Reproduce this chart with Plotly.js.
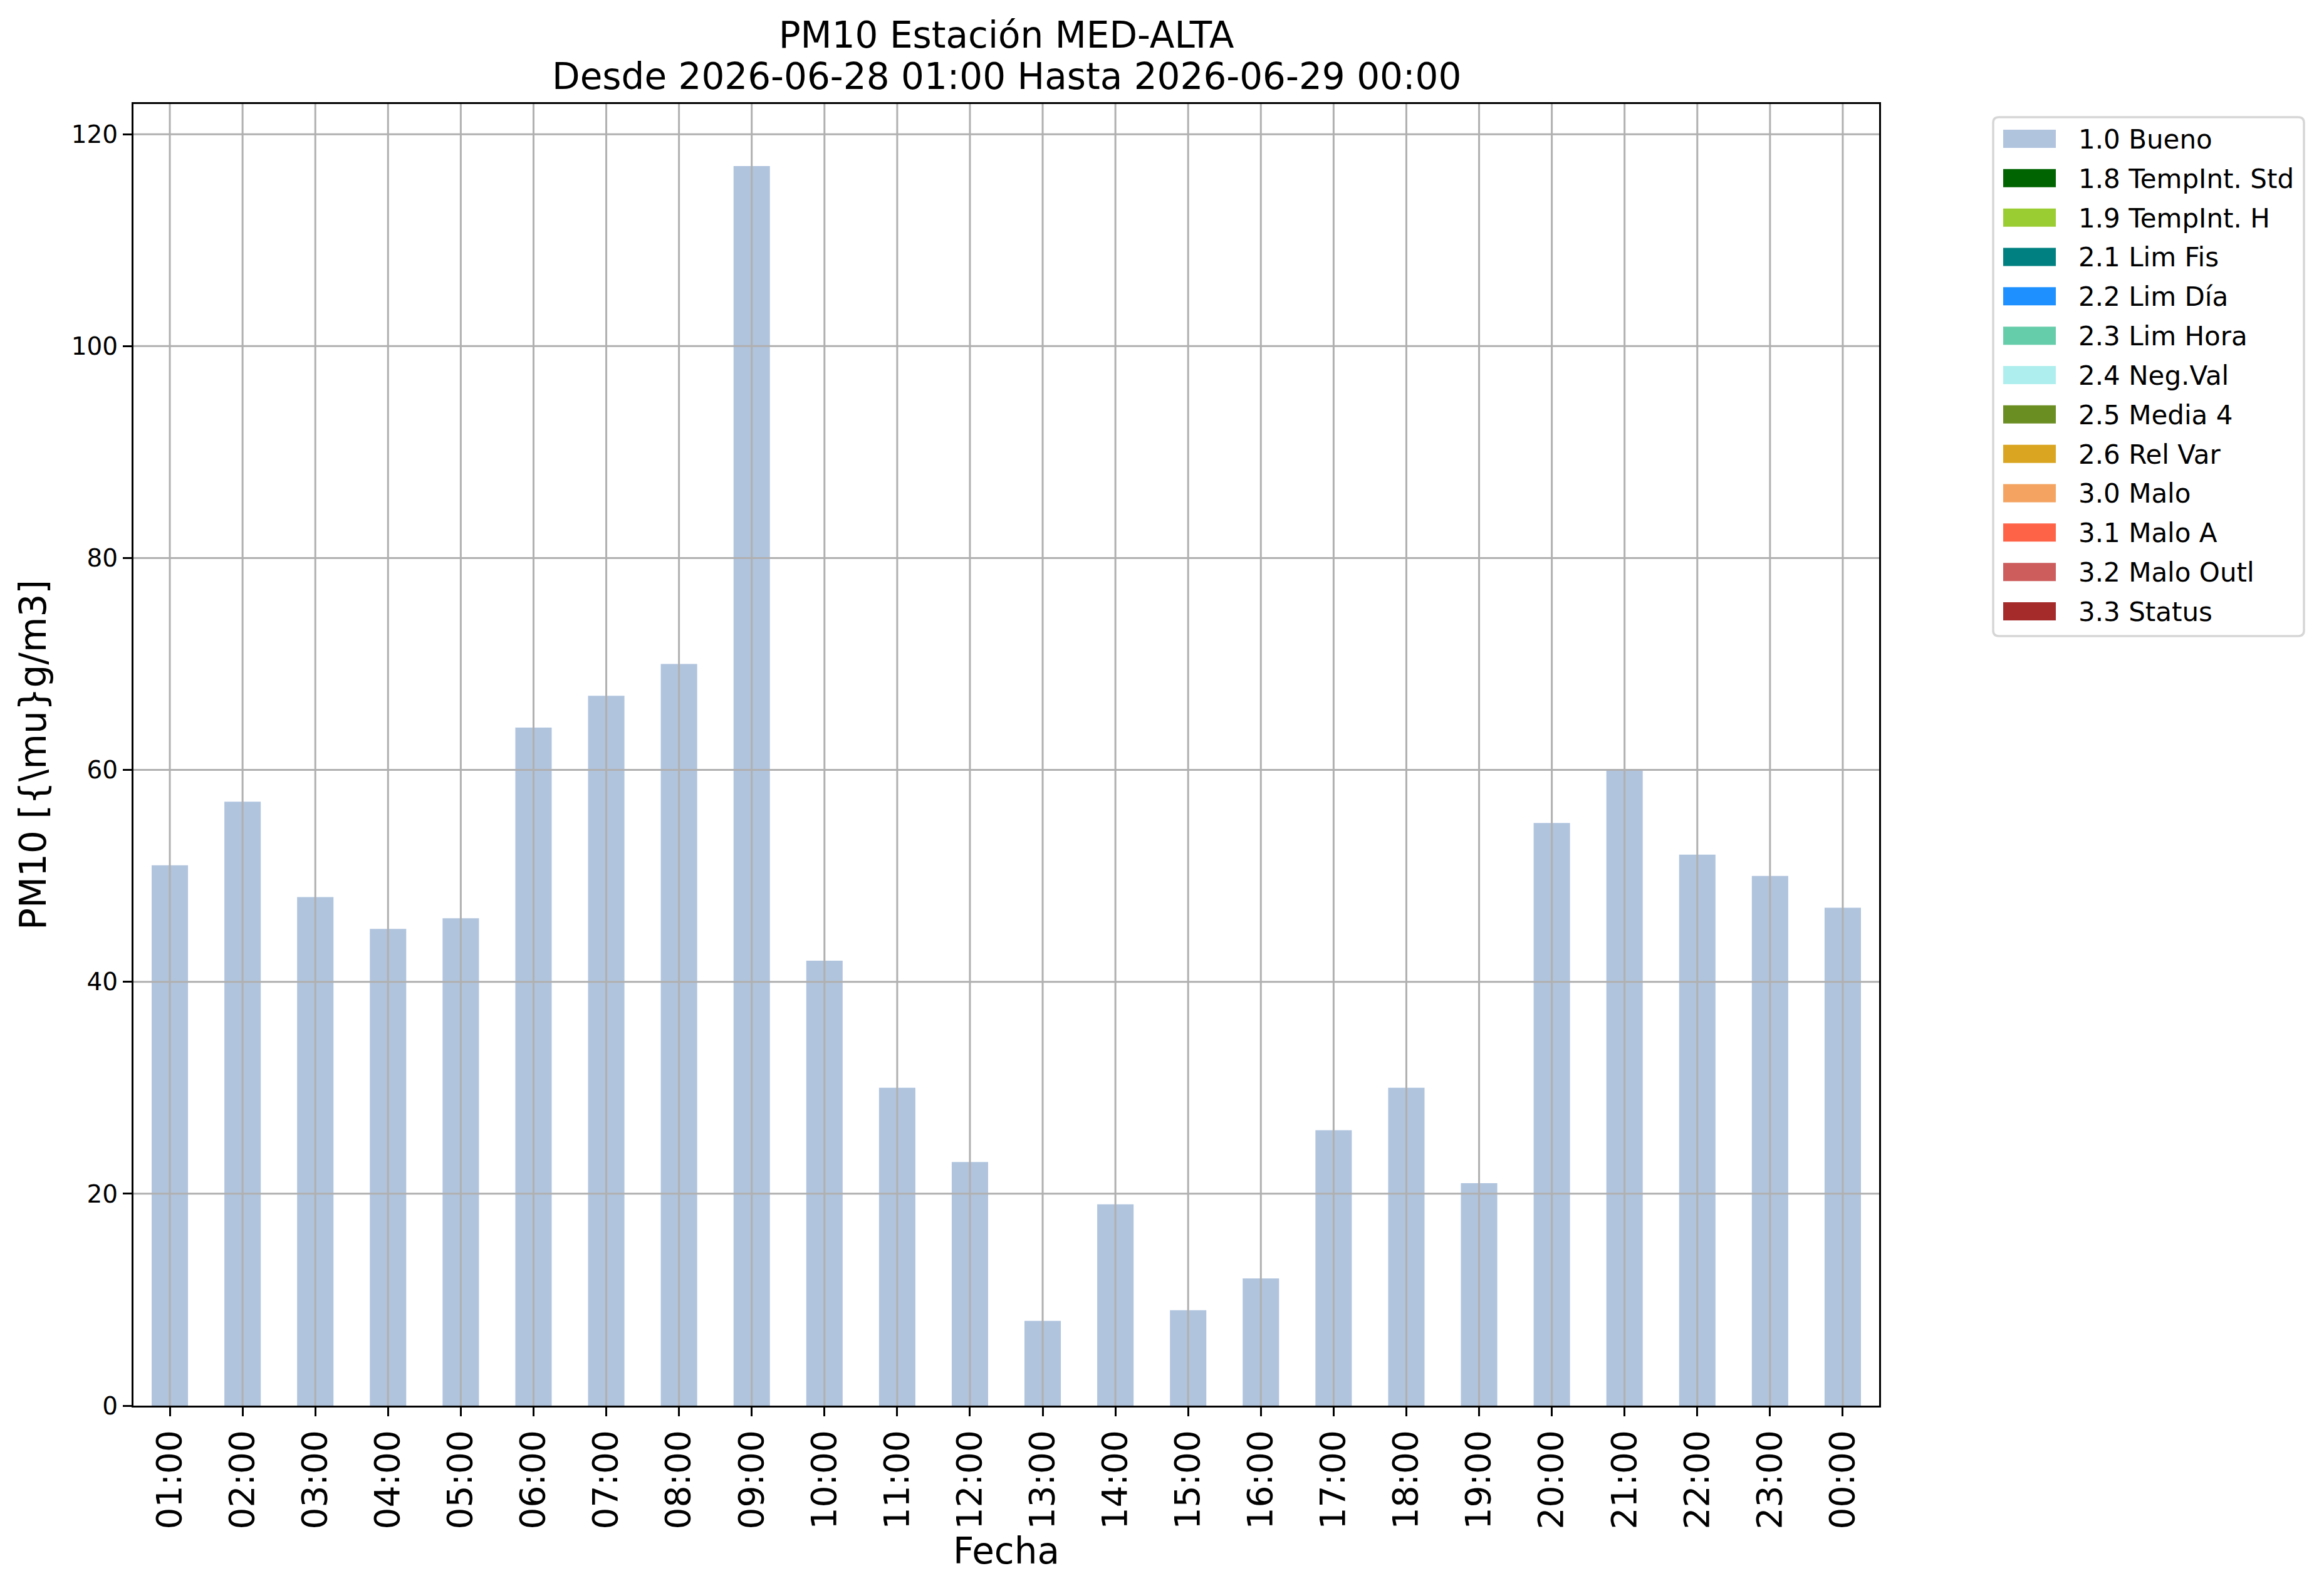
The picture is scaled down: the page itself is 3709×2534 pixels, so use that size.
<!DOCTYPE html>
<html>
<head>
<meta charset="utf-8">
<script src="https://cdn.plot.ly/plotly-3.0.1.min.js"></script>
<style>
  html, body { margin: 0; padding: 0; background: #fff; }
  #chart { width: 3709px; height: 2534px; }
</style>
</head>
<body>
<div id="chart"></div>
<script>
// hourly PM10 values, station MED-ALTA
var hours = ['01:00', '02:00', '03:00', '04:00', '05:00', '06:00', '07:00', '08:00',
             '09:00', '10:00', '11:00', '12:00', '13:00', '14:00', '15:00', '16:00',
             '17:00', '18:00', '19:00', '20:00', '21:00', '22:00', '23:00', '00:00'];
var pm10 = [51, 57, 48, 45, 46, 64, 67, 70, 117, 42, 30, 23,
            8, 19, 9, 12, 26, 30, 21, 55, 60, 52, 50, 47];
var quality = ['1.0', '1.0', '1.0', '1.0', '1.0', '1.0', '1.0', '1.0', '1.0', '1.0', '1.0', '1.0',
               '1.0', '1.0', '1.0', '1.0', '1.0', '1.0', '1.0', '1.0', '1.0', '1.0', '1.0', '1.0'];

// quality flags shown in the legend
var flagCodes = ['1.0', '1.8', '1.9', '2.1', '2.2', '2.3', '2.4', '2.5', '2.6', '3.0', '3.1', '3.2', '3.3'];
var flagNames = ['Bueno', 'TempInt. Std', 'TempInt. H', 'Lim Fis', 'Lim Día', 'Lim Hora',
                 'Neg.Val', 'Media 4', 'Rel Var', 'Malo', 'Malo A', 'Malo Outl', 'Status'];
var flagColors = ['#B0C4DE', '#006400', '#9ACD32', '#008080', '#1E90FF', '#66CDAA',
                  '#AFEEEE', '#6B8E23', '#DAA520', '#F4A460', '#FF6347', '#CD5C5C', '#A52A2A'];

var yTicks = [0, 20, 40, 60, 80, 100, 120];

var titleLine1 = 'PM10 Estación MED-ALTA';
var titleLine2 = 'Desde 2026-06-28 01:00 Hasta 2026-06-29 00:00';

var W = 3709, H = 2534;
var plotL = 213, plotR = 2999, plotT = 166, plotB = 2243;
var font = 'DejaVu Sans, Verdana, sans-serif';
var gridCol = '#b0b0b0';

// pixel -> paper helpers (legend lives outside the plot area)
function px(x) { return (x - plotL) / (plotR - plotL); }
function py(y) { return (plotB - y) / (plotB - plotT); }

var data = [];
flagCodes.forEach(function (code, k) {
    var xs = [], ys = [];
    quality.forEach(function (q, i) {
        if (q === code) { xs.push(hours[i]); ys.push(pm10[i]); }
    });
    data.push({
        type: 'bar',
        x: xs,
        y: ys,
        width: 0.5,
        name: code + ' ' + flagNames[k],
        marker: {color: flagColors[k], line: {width: 0}},
        showlegend: false,
        hoverinfo: 'x+y'
    });
});

var shapes = [];
// grid drawn on top of the bars, like the original
hours.forEach(function (h, i) {
    shapes.push({type: 'line', layer: 'above', xref: 'x', yref: 'paper',
                 x0: i, x1: i, y0: 0, y1: 1, line: {color: gridCol, width: 3}});
});
yTicks.forEach(function (v) {
    if (v === 0) return;
    shapes.push({type: 'line', layer: 'above', xref: 'paper', yref: 'y',
                 x0: 0, x1: 1, y0: v, y1: v, line: {color: gridCol, width: 3}});
});

// legend box, built by hand so the swatches are wide rectangles
var lgL = 3181, lgR = 3677, lgT = 187, lgB = 1015, r = 9;
var boxPath = 'M' + px(lgL + r) + ',' + py(lgT) +
    ' L' + px(lgR - r) + ',' + py(lgT) + ' Q' + px(lgR) + ',' + py(lgT) + ' ' + px(lgR) + ',' + py(lgT + r) +
    ' L' + px(lgR) + ',' + py(lgB - r) + ' Q' + px(lgR) + ',' + py(lgB) + ' ' + px(lgR - r) + ',' + py(lgB) +
    ' L' + px(lgL + r) + ',' + py(lgB) + ' Q' + px(lgL) + ',' + py(lgB) + ' ' + px(lgL) + ',' + py(lgB - r) +
    ' L' + px(lgL) + ',' + py(lgT + r) + ' Q' + px(lgL) + ',' + py(lgT) + ' ' + px(lgL + r) + ',' + py(lgT) + ' Z';
shapes.push({type: 'path', xref: 'paper', yref: 'paper', path: boxPath, layer: 'above',
             fillcolor: 'rgba(255,255,255,0.8)', line: {color: '#d6d6d6', width: 3.5}});

var annotations = [];
var rowTop = 221.5, rowStep = 62.83;
flagCodes.forEach(function (code, k) {
    var cy = rowTop + rowStep * k;
    shapes.push({type: 'rect', xref: 'paper', yref: 'paper', layer: 'above',
                 x0: px(3197), x1: px(3281), y0: py(cy - 14.5), y1: py(cy + 14.5),
                 fillcolor: flagColors[k], line: {width: 0}});
    annotations.push({xref: 'paper', yref: 'paper', x: px(3315), y: py(cy + 1),
                      xanchor: 'left', yanchor: 'middle', showarrow: false,
                      text: code + ' ' + flagNames[k],
                      font: {family: font, size: 42, color: '#000'}});
});

// second title line; matplotlib spaces its lines tighter than Plotly's <br>
annotations.push({xref: 'paper', yref: 'paper', x: 0.5, y: py(122),
                  xanchor: 'center', yanchor: 'middle', showarrow: false,
                  text: titleLine2, font: {family: font, size: 58, color: '#000'}});

var layout = {
    width: W,
    height: H,
    margin: {l: plotL, r: W - plotR, t: plotT, b: H - plotB, pad: 0},
    paper_bgcolor: '#fff',
    plot_bgcolor: '#fff',
    font: {family: font, color: '#000'},
    barmode: 'overlay',
    showlegend: false,
    title: {
        text: titleLine1,
        font: {family: font, size: 58, color: '#000'},
        xref: 'paper', x: 0.5, xanchor: 'center',
        yref: 'container', y: 1 - 56 / H, yanchor: 'middle'
    },
    xaxis: {
        type: 'category',
        categoryorder: 'array',
        categoryarray: hours,
        range: [-0.5, 23.5],
        showgrid: false,
        zeroline: false,
        showline: true,
        mirror: true,
        linecolor: '#000',
        linewidth: 3,
        ticks: 'outside',
        ticklen: 14,
        tickwidth: 3,
        tickcolor: '#000',
        tickangle: -90,
        tickfont: {family: font, size: 55, color: '#000'},
        title: {text: 'Fecha', font: {family: font, size: 58, color: '#000'}, standoff: 12}
    },
    yaxis: {
        range: [0, 122.85],
        tickvals: yTicks,
        ticktext: yTicks.map(String),
        showgrid: false,
        zeroline: false,
        showline: true,
        mirror: true,
        linecolor: '#000',
        linewidth: 3,
        ticks: 'outside',
        ticklen: 14,
        tickwidth: 3,
        tickcolor: '#000',
        tickfont: {family: font, size: 39, color: '#000'},
        title: {text: 'PM10 [{\\mu}g/m3]', font: {family: font, size: 58, color: '#000'}, standoff: 22}
    },
    shapes: shapes,
    annotations: annotations
};

Plotly.newPlot('chart', data, layout, {displayModeBar: false, responsive: false});
</script>
</body>
</html>
